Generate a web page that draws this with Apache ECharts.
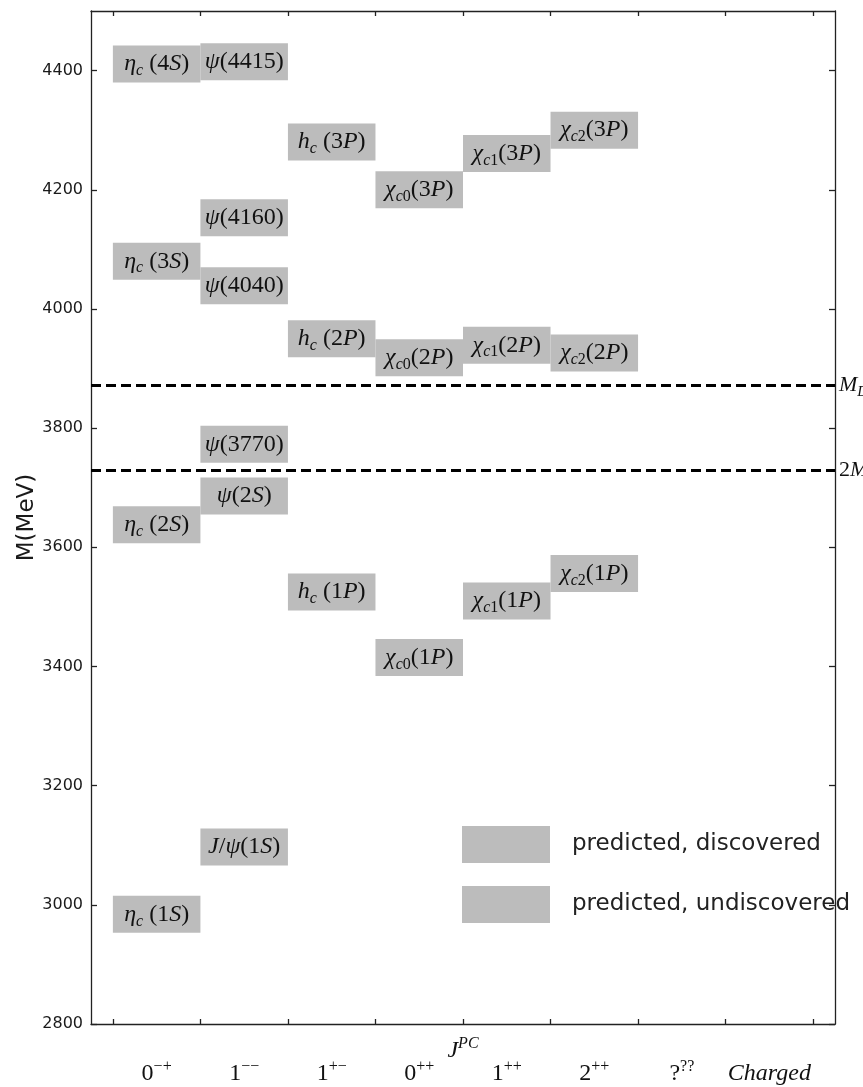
<!DOCTYPE html>
<html><head><meta charset="utf-8">
<script src="https://cdn.jsdelivr.net/npm/echarts@6/dist/echarts.min.js"></script>
<style>html,body{margin:0;padding:0;background:#fff}#c{width:863px;height:1087px}</style>
</head><body><div id="c"></div>
<script>
// ---- data ----
const categories = ['0^{−+}', '1^{−−}', '1^{+−}', '0^{++}', '1^{++}', '2^{++}', '?^{??}', 'Charged'];
const xTickValues = [0, 1, 2, 3, 4, 5, 6, 7, 8];
const xLabelValues = [0.5, 1.5, 2.5, 3.5, 4.5, 5.5, 6.5, 7.5];
const yTicks = [2800, 3000, 3200, 3400, 3600, 3800, 4000, 4200, 4400];

const stateNames = [
  'η_{c} (1S)', 'η_{c} (2S)', 'η_{c} (3S)', 'η_{c} (4S)',
  'J/ψ(1S)', 'ψ(2S)', 'ψ(3770)', 'ψ(4040)', 'ψ(4160)', 'ψ(4415)',
  'h_{c} (1P)', 'h_{c} (2P)', 'h_{c} (3P)',
  'χ_{c0}(1P)', 'χ_{c0}(2P)', 'χ_{c0}(3P)',
  'χ_{c1}(1P)', 'χ_{c1}(2P)', 'χ_{c1}(3P)',
  'χ_{c2}(1P)', 'χ_{c2}(2P)', 'χ_{c2}(3P)'
];
const stateColumns = [0, 0, 0, 0, 1, 1, 1, 1, 1, 1, 2, 2, 2, 3, 3, 3, 4, 4, 4, 5, 5, 5];
const stateMasses = [2984, 3638, 4080, 4411, 3097, 3686, 3773, 4039, 4153, 4415,
  3525, 3950, 4280, 3415, 3918, 4200, 3510, 3939, 4261, 3556, 3926, 4300];
const stateDiscovered = [1, 1, 0, 0, 1, 1, 1, 1, 1, 1, 1, 0, 0, 1, 0, 0, 1, 0, 0, 1, 1, 0];

const thresholdNames = ['M_{D}+M_{D*}', '2M_{D}'];
const thresholdMasses = [3872, 3730];
const legendNames = ['predicted, discovered', 'predicted, undiscovered'];

// ---- helpers ----
const MATH = 'Liberation Serif, Times New Roman, serif';
function toRich(s, p) {
  let out = '';
  const push = (txt, lvl) => {
    let run = '', cur = null;
    for (const ch of txt) {
      const it = /[A-Za-z\u0370-\u03FF]/.test(ch) ? 'i' : 'r';
      if (cur !== null && it !== cur) { out += '{' + p + lvl + cur + '|' + run + '}'; run = ''; }
      cur = it; run += ch;
    }
    if (run) out += '{' + p + lvl + cur + '|' + run + '}';
  };
  let i = 0;
  while (i < s.length) {
    const ch = s[i];
    if ((ch === '_' || ch === '^') && s[i + 1] === '{') {
      const j = s.indexOf('}', i);
      push(s.slice(i + 2, j), ch === '_' ? 's' : 'p');
      i = j + 1;
    } else {
      let j = i;
      while (j < s.length && !((s[j] === '_' || s[j] === '^') && s[j + 1] === '{')) j++;
      push(s.slice(i, j), 'n');
      i = j;
    }
  }
  return out;
}
function makeRich(p, size, color, supLH) {
  const L = Math.round(size * 1.25);
  const ss = Math.round(size * 0.68);
  const r = {};
  for (const it of ['i', 'r']) {
    const fs = it === 'i' ? 'italic' : 'normal';
    const base = { fontFamily: MATH, color: color, fill: color, fontStyle: fs };
    r[p + 'n' + it] = Object.assign({}, base, { fontSize: size, lineHeight: L, verticalAlign: 'middle' });
    r[p + 's' + it] = Object.assign({}, base, { fontSize: ss, lineHeight: ss, verticalAlign: 'bottom' });
    r[p + 'p' + it] = Object.assign({}, base, { fontSize: ss, lineHeight: supLH || ss, verticalAlign: 'top' });
  }
  return r;
}
const boxRich = makeRich('b', 24, '#111');
const xRich = makeRich('x', 24, '#111', 14);
const nRich = makeRich('j', 24, '#111', 15);
const mRich = makeRich('m', 22, '#111');

const BOX_COLOR = '#bcbcbc';
function seriesData(flag) {
  const d = [];
  for (let k = 0; k < stateNames.length; k++) {
    if (stateDiscovered[k] === flag) d.push([stateColumns[k], stateMasses[k], k]);
  }
  return d;
}
function renderItem(params, api) {
  const col = api.value(0), m = api.value(1), idx = api.value(2);
  const a = api.coord([col, m]), b = api.coord([col + 1, m]);
  const h = 37;
  return {
    type: 'group',
    children: [
      { type: 'rect', shape: { x: a[0], y: a[1] - h / 2, width: b[0] - a[0], height: h },
        style: { fill: api.visual('color') } },
      { type: 'text', style: { x: (a[0] + b[0]) / 2, y: a[1], text: toRich(stateNames[idx], 'b'),
        rich: boxRich, align: 'center', verticalAlign: 'middle', fill: '#111' } }
    ]
  };
}

const axisLineStyle = { color: '#222', width: 1.3 };
const chart = echarts.init(document.getElementById('c'), null, { renderer: 'canvas' });
chart.setOption({
  animation: false,
  backgroundColor: '#fff',
  grid: { left: 91, right: 28, top: 11, bottom: 63, containLabel: false, outerBoundsMode: 'none' },
  legend: {
    data: legendNames.map(n => ({ name: n, icon: 'rect' })),
    orient: 'vertical', left: 462, top: 826, padding: 0,
    itemWidth: 88, itemHeight: 37, itemGap: 23,
    selectedMode: false,
    textStyle: { fontFamily: 'DejaVu Sans', fontSize: 23, color: '#222', padding: [0, 0, 0, 17] }
  },
  xAxis: [{
    type: 'value', min: -0.25, max: 8.25, position: 'bottom',
    axisLine: { show: true, onZero: false, lineStyle: axisLineStyle },
    axisTick: { show: true, inside: true, length: 5, customValues: xTickValues, lineStyle: axisLineStyle },
    splitLine: { show: false },
    axisLabel: {
      show: true, customValues: xLabelValues, margin: 35,
      formatter: v => toRich(categories[Math.round(v - 0.5)], 'x'), rich: xRich
    },
    name: toRich('J^{PC}', 'j'), nameLocation: 'middle', nameGap: 12, nameMoveOverlap: false,
    nameTextStyle: { rich: nRich }
  }, {
    type: 'value', min: -0.25, max: 8.25, position: 'top',
    axisLine: { show: true, onZero: false, lineStyle: axisLineStyle },
    axisTick: { show: true, inside: true, length: 5, customValues: xTickValues, lineStyle: axisLineStyle },
    splitLine: { show: false }, axisLabel: { show: false }
  }],
  yAxis: [{
    type: 'value', min: 2800, max: 4500, position: 'left',
    axisLine: { show: true, onZero: false, lineStyle: axisLineStyle },
    axisTick: { show: true, inside: true, length: 6, customValues: yTicks, lineStyle: axisLineStyle },
    splitLine: { show: false },
    axisLabel: { show: true, customValues: yTicks, margin: 8, formatter: v => String(v),
      fontFamily: 'DejaVu Sans', fontSize: 16, color: '#1a1a1a' },
    name: 'M(MeV)', nameLocation: 'middle', nameRotate: 90, nameGap: 52, nameMoveOverlap: false,
    nameTextStyle: { fontFamily: 'DejaVu Sans', fontSize: 23, color: '#1a1a1a' }
  }, {
    type: 'value', min: 2800, max: 4500, position: 'right',
    axisLine: { show: true, onZero: false, lineStyle: axisLineStyle },
    axisTick: { show: true, inside: true, length: 6, customValues: yTicks, lineStyle: axisLineStyle },
    splitLine: { show: false }, axisLabel: { show: false }
  }],
  series: [
    { name: legendNames[0], type: 'custom', xAxisIndex: 0, yAxisIndex: 0, renderItem: renderItem,
      itemStyle: { color: BOX_COLOR }, data: seriesData(1), silent: true },
    { name: legendNames[1], type: 'custom', xAxisIndex: 0, yAxisIndex: 0, renderItem: renderItem,
      itemStyle: { color: BOX_COLOR }, data: seriesData(0), silent: true },
    { name: 'thresholds', type: 'line', xAxisIndex: 0, yAxisIndex: 0, data: [], silent: true,
      markLine: {
        silent: true, symbol: ['none', 'none'],
        lineStyle: { color: '#000', width: 3, type: [10, 5] },
        label: { show: true, position: 'end', distance: 4,
          formatter: p => toRich(thresholdNames[p.dataIndex], 'm'), rich: mRich },
        data: thresholdMasses.map(v => ({ yAxis: v }))
      } }
  ]
});
</script>
</body></html>
